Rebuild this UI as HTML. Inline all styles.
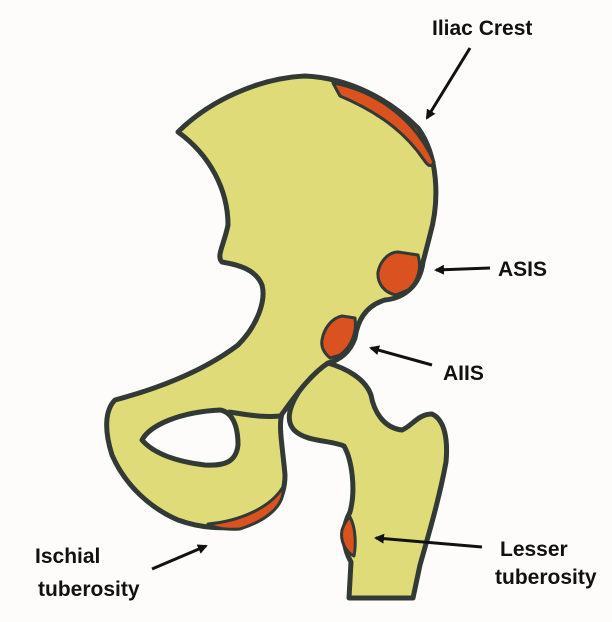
<!DOCTYPE html>
<html><head><style>
html,body{margin:0;padding:0;background:#fefcfb;}
svg{display:block;}
text{font-family:"Liberation Sans",sans-serif;font-weight:bold;fill:#111;font-size:21px;}
</style></head><body>
<svg width="612" height="622" viewBox="0 0 612 622">
<defs><marker id="a" markerWidth="10" markerHeight="10" refX="8" refY="5" orient="auto" markerUnits="userSpaceOnUse"><path d="M0,0 L10,5 L0,10 Z" fill="#111"/></marker></defs>
<rect width="612" height="622" fill="#fefcfb"/>
<g stroke="#333a36" stroke-width="5" stroke-linejoin="round" fill="#dedb78">
<path d="M328,363 C345,368 365,378 371,395 C374,412 384,428 402,430 C412,426 418,414 432,414 C445,420 448,440 446,462 C440,495 430,530 420,565 L413,598 L349,598 L351,562 C344,550 340,530 350,512 C356,490 352,460 344,446 C330,440 306,442 294,430 C285,420 290,405 300,390 C310,376 318,368 328,363 Z"/>
<path d="M178,132 C210,100 260,78 305,76 C350,78 390,100 418,128 C438,155 440,200 430,235 L423,262 C420,285 405,298 385,300 C368,305 358,318 355,338 C350,352 340,360 328,363 C310,375 296,395 282,414 C278,425 283,450 285,475 C285,500 272,518 245,525 C225,530 200,528 178,520 C150,508 125,485 112,455 C104,430 105,410 115,400 C160,388 205,370 238,345 C258,325 266,300 262,285 C256,270 240,265 222,262 C216,256 224,245 228,225 C228,190 210,155 178,132 Z"/>
<path d="M142,440 C150,425 180,412 220,410 C232,412 238,425 238,445 C236,462 225,466 205,465 C180,462 155,455 142,440 Z" fill="#fefcfb"/>
<path d="M228,412 C245,414 262,418 280,416" fill="none"/>
</g>
<g fill="#d9521f" stroke="#333a36" stroke-width="3" stroke-linejoin="round">
<path d="M333,83 C372,90 414,116 434,162 C431,168 428,166 424,160 C405,132 378,112 340,96 Z"/>
<path d="M378,272 C380,262 388,252 398,252 L418,255 C422,268 418,282 408,290 L396,295 C385,293 377,284 378,272 Z"/>
<path d="M322,340 C324,328 332,318 342,316 L355,318 C357,332 352,346 340,355 L330,358 C323,352 321,346 322,340 Z"/>
<path d="M208,524 C240,521 270,508 283,487 C285,505 268,520 240,529 C225,530 215,528 208,524 Z"/>
<path d="M350,517 C356,528 356,545 354,556 C345,552 340,540 342,530 C344,524 346,520 350,517 Z"/>
</g>
<g stroke="#111" stroke-width="3" marker-end="url(#a)" fill="none">
<line x1="470" y1="48" x2="427" y2="118"/>
<line x1="490" y1="268" x2="436" y2="270"/>
<line x1="432" y1="365" x2="371" y2="348"/>
<line x1="152" y1="569" x2="206" y2="546"/>
<line x1="482" y1="547" x2="376" y2="538"/>
</g>
<text x="432" y="35">Iliac Crest</text>
<text x="498" y="276">ASIS</text>
<text x="443" y="380">AIIS</text>
<text x="35" y="563">Ischial</text>
<text x="38" y="596">tuberosity</text>
<text x="500" y="556">Lesser</text>
<text x="495" y="584">tuberosity</text>
</svg>
</body></html>
